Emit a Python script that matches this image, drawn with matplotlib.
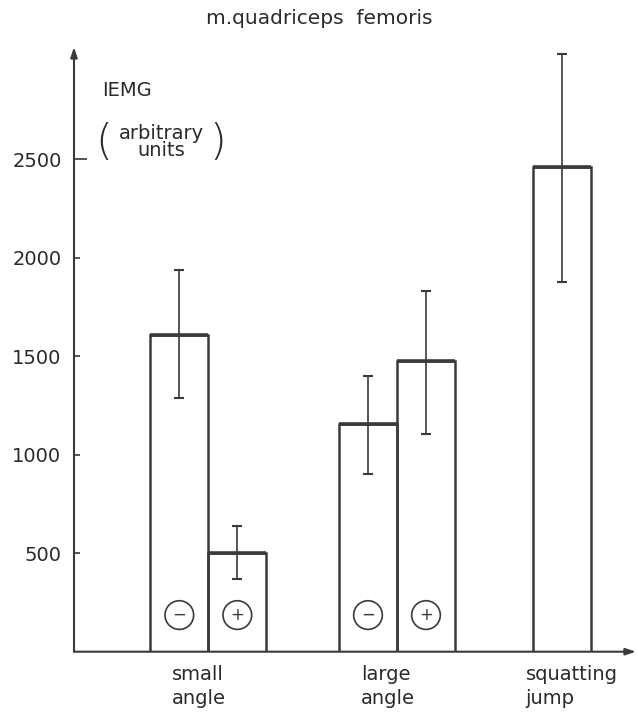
import numpy as np
import matplotlib
matplotlib.use("Agg")
import matplotlib.pyplot as plt

# data
groups = ['small\nangle', 'large\nangle', 'squatting\njump']
bar_group = [0, 0, 1, 1, 2]
signs = ['\u2212', '+', '\u2212', '+', '']
means = [1610, 500, 1155, 1475, 2460]
err_low = [1290, 367, 904, 1104, 1877]
err_high = [1940, 640, 1401, 1831, 3037]
yticks = [500, 1000, 1500, 2000, 2500]

ink = '#3a3a3a'
txt = '#2a2a2a'
plt.rcParams['font.family'] = 'DejaVu Sans'

W, H = 638, 712
fig = plt.figure(figsize=(W / 100, H / 100), dpi=100)
ax = fig.add_axes([74 / W, (H - 651.7) / H, (636 - 74) / W, (651.7 - 47) / H])

# layout of the bars (in bar-width units)
group_x = np.array([2.316, 5.569, 8.41])
offs = np.array([-0.5, 0.5, -0.5, 0.5, 0.0])
xs = group_x[bar_group] + offs

means = np.array(means)
lo = means - np.array(err_low)
hi = np.array(err_high) - means

ax.bar(xs, means, width=1.0, fill=False, edgecolor=ink, linewidth=1.8, zorder=2)
# slightly heavier top edges like the drawing
ax.hlines(means, xs - 0.5, xs + 0.5, color=ink, lw=2.6, zorder=2)
ax.errorbar(xs, means, yerr=[lo, hi], fmt='none', ecolor=ink,
            elinewidth=1.2, capsize=3.5, capthick=1.5, zorder=3)

for x, s in zip(xs, signs):
    if s:
        ax.text(x, 186, s, ha='center', va='center', fontsize=12, color=ink,
                bbox=dict(boxstyle='circle,pad=0.32', fc='white', ec=ink, lw=1.2))

ax.set_xlim(0, 9.69)
ax.set_ylim(0, 3070)
for sp in ax.spines.values():
    sp.set_visible(False)

# axes with arrows
ax.annotate('', xy=(0, 1.0), xytext=(0, 0), xycoords='axes fraction',
            arrowprops=dict(arrowstyle='-|>,head_length=0.6,head_width=0.2',
                            color=ink, lw=1.5, shrinkA=0, shrinkB=0))
ax.annotate('', xy=(1.0, 0), xytext=(0, 0), xycoords='axes fraction',
            arrowprops=dict(arrowstyle='-|>,head_length=0.6,head_width=0.2',
                            color=ink, lw=1.5, shrinkA=0, shrinkB=0))

ax.set_xticks([])
ax.set_yticks(yticks)
ax.set_yticklabels([str(v) for v in yticks], fontsize=14, color=txt)
ax.tick_params(axis='y', direction='in', length=4, width=1.2, color=ink, pad=9)
ax.yaxis.get_major_ticks()[-1].tick1line.set_markersize(9)

# category labels under the x axis
for gx, name in zip(group_x, groups):
    xpix = 74 + gx * 58 - 36
    fig.text(xpix / W, 1 - 665 / H, name, ha='left', va='top', fontsize=14,
             color=txt, linespacing=1.3)

fig.text(0.5, 1 - 18 / H, 'm.quadriceps  femoris', ha='center', va='center',
         fontsize=14.5, color=txt)
fig.text(102 / W, 1 - 91 / H, 'IEMG', ha='left', va='center', fontsize=14,
         color=txt)
fig.text(161 / W, 1 - 142 / H, 'arbitrary\nunits', ha='center', va='center',
         fontsize=14, color=txt, linespacing=0.85)
fig.text(104 / W, 1 - 142 / H, '(', ha='center', va='center', fontsize=31,
         color=txt, fontweight='light')
fig.text(218 / W, 1 - 142 / H, ')', ha='center', va='center', fontsize=31,
         color=txt, fontweight='light')

fig.savefig('out.png', dpi=100, facecolor='white')
